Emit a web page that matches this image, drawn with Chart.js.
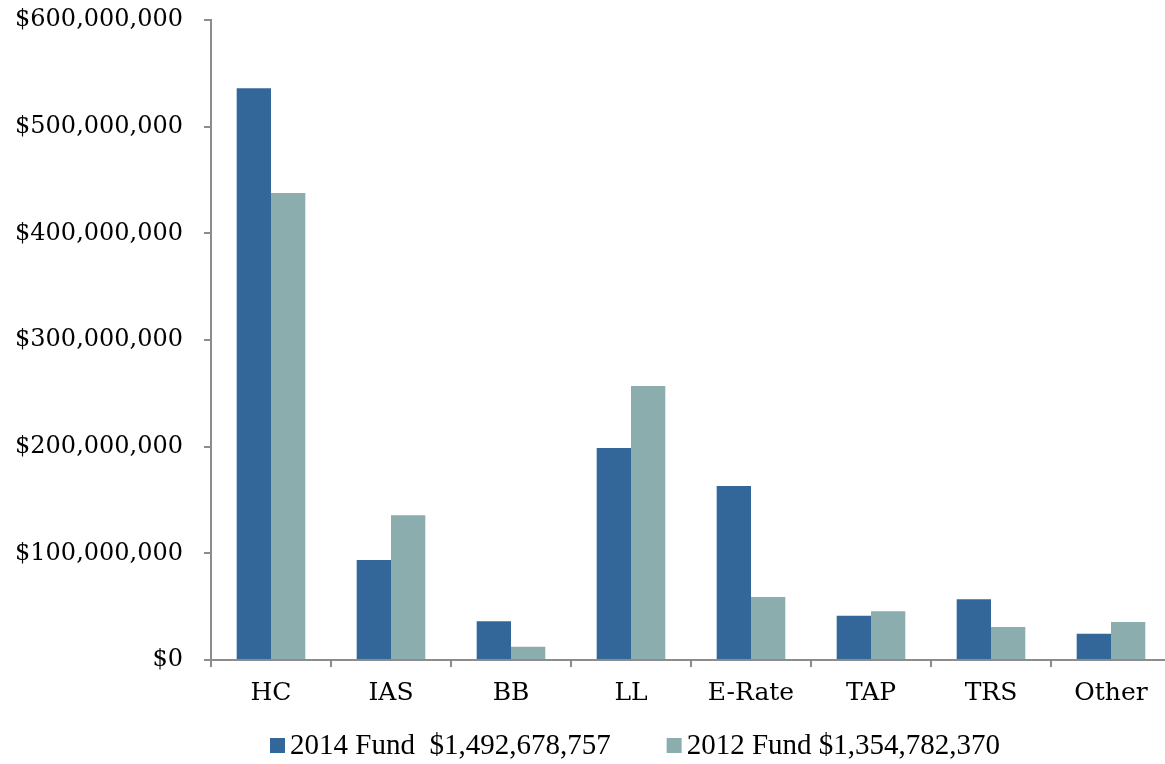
<!DOCTYPE html>
<html>
<head>
<meta charset="utf-8">
<script src="https://cdn.jsdelivr.net/npm/chart.js@4.4.1/dist/chart.umd.min.js"></script>
<style>
  html, body { margin: 0; padding: 0; overflow: hidden; background: #ffffff; }
  #wrap { width: 1172px; height: 764px; }
</style>
</head>
<body>
<div id="wrap"><canvas id="chart" width="1172" height="764"></canvas></div>
<script>
// Universal Service Fund program totals, in dollars
const categories = ['HC', 'IAS', 'BB', 'LL', 'E-Rate', 'TAP', 'TRS', 'Other'];
const fund2014 = [536000000, 93800000, 36300000, 198800000, 163100000, 41500000, 56900000, 24700000];
const fund2012 = [437800000, 135600000, 12500000, 256900000, 59100000, 45600000, 30900000, 35600000];
const seriesLabels = ['2014 Fund  $1,492,678,757', '2012 Fund $1,354,782,370'];
const seriesColors = ['#346799', '#8cadad'];
const yTickValues = [0, 100000000, 200000000, 300000000, 400000000, 500000000, 600000000];

const AXIS_GREY = '#8c8c8c';
const SERIF = "'DejaVu Serif', Georgia, serif";

// Legend drawn under the plot: square swatch followed by the series label
const bottomLegend = {
  id: 'bottomLegend',
  afterDraw(chart) {
    const ctx = chart.ctx;
    ctx.save();
    ctx.font = "29px 'Liberation Serif', serif";
    ctx.textBaseline = 'middle';
    ctx.textAlign = 'left';
    let x = 270;
    const y = 746;
    chart.data.datasets.forEach((ds) => {
      ctx.fillStyle = ds.backgroundColor;
      ctx.fillRect(x, y - 8, 15, 15);
      ctx.fillStyle = '#000000';
      ctx.fillText(ds.label, x + 20, y);
      x += 20 + ctx.measureText(ds.label).width + 56;
    });
    ctx.restore();
  }
};

new Chart(document.getElementById('chart'), {
  type: 'bar',
  data: {
    labels: categories,
    datasets: [
      { label: seriesLabels[0], data: fund2014, backgroundColor: seriesColors[0],
        categoryPercentage: 0.572, barPercentage: 1.0 },
      { label: seriesLabels[1], data: fund2012, backgroundColor: seriesColors[1],
        categoryPercentage: 0.572, barPercentage: 1.0 }
    ]
  },
  options: {
    responsive: false,
    animation: false,
    devicePixelRatio: 1,
    layout: { padding: { top: 20, right: 1, left: 0, bottom: 0 } },
    plugins: {
      legend: { display: false },
      tooltip: { enabled: false }
    },
    scales: {
      x: {
        grid: {
          display: true, drawOnChartArea: false, drawTicks: true,
          tickLength: 7, color: AXIS_GREY, lineWidth: 2, offset: true
        },
        border: { display: true, color: AXIS_GREY, width: 2 },
        ticks: { color: '#000000', font: { family: SERIF, size: 25 }, padding: 11, maxRotation: 0 },
        afterFit(scale) { scale.height = 104; }
      },
      y: {
        min: 0,
        max: 600000000,
        afterBuildTicks(scale) { scale.ticks = yTickValues.map(v => ({ value: v })); },
        grid: {
          display: true, drawOnChartArea: false, drawTicks: true,
          tickLength: 7, color: AXIS_GREY, lineWidth: 2
        },
        border: { display: true, color: AXIS_GREY, width: 2 },
        ticks: {
          color: '#000000',
          font: { family: SERIF, size: 24 },
          padding: 21,
          callback: (v) => '$' + Number(v).toLocaleString('en-US')
        },
        afterFit(scale) {
          scale.width = 211;
          // the outer layout padding already leaves room for the end labels
          scale.paddingTop = 0;
          scale.paddingBottom = 0;
        }
      }
    }
  },
  plugins: [bottomLegend]
});
</script>
</body>
</html>
